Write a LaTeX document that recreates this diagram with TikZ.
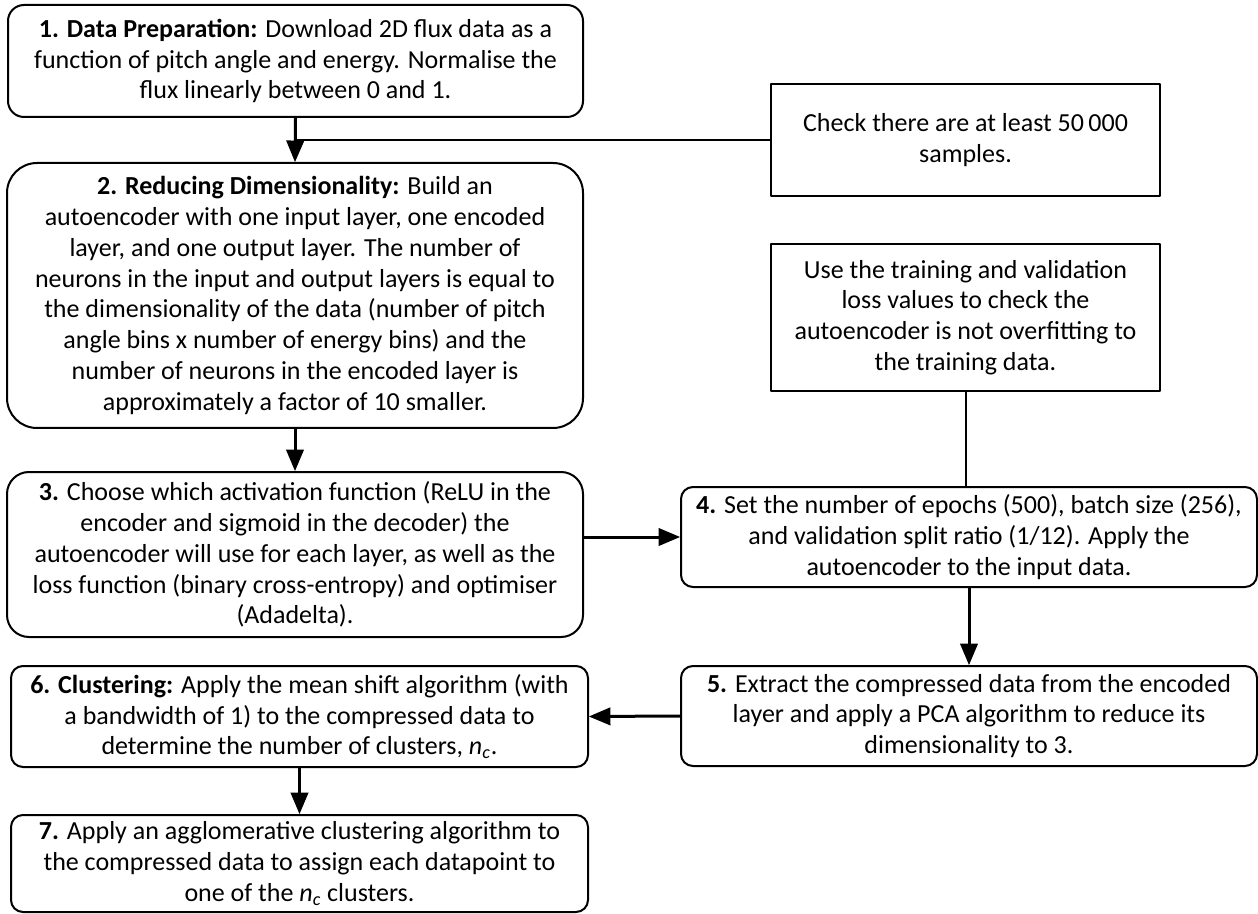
\documentclass[tikz,border=0pt]{standalone}
\usepackage{fontspec}
\setmainfont{Carlito}
\usetikzlibrary{arrows}

\tikzset{
  stepbox/.style={draw, line width=1pt, align=center, inner sep=0pt,
    font=\fontsize{13}{15.4}\selectfont},
  notebox/.style={stepbox, sharp corners},
  flow/.style={line width=1.5pt, ->, >=triangle 45},
  link/.style={line width=1pt}
}

\begin{document}
\begin{tikzpicture}[x=0.5pt,y=-0.5pt,line cap=round,line join=round]
\useasboundingbox (0,0) rectangle (1258,914);
% left column
\node [stepbox, rounded corners=8pt, minimum width=287.5pt, minimum height=56pt] (prep) at (295.5,61)
  {\textbf{1. Data Preparation:} Download 2D flux data as a\\
   function of pitch angle and energy. Normalise the\\
   flux linearly between 0 and 1.};
\node [stepbox, rounded corners=15pt, minimum width=288pt, minimum height=132.5pt] (reduce) at (295,295.5)
  {\textbf{2. Reducing Dimensionality:} Build an\\
   autoencoder with one input layer, one encoded\\
   layer, and one output layer. The number of\\
   neurons in the input and output layers is equal to\\
   the dimensionality of the data (number of pitch\\
   angle bins x number of energy bins) and the\\
   number of neurons in the encoded layer is\\
   approximately a factor of 10 smaller.};
\node [stepbox, rounded corners=11pt, minimum width=288pt, minimum height=82.5pt] (activ) at (295,554.5)
  {\textbf{3.} Choose which activation function (ReLU in the\\
   encoder and sigmoid in the decoder) the\\
   autoencoder will use for each layer, as well as the\\
   loss function (binary cross-entropy) and optimiser\\
   (Adadelta).};
\node [stepbox, rounded corners=6pt, minimum width=288.5pt, minimum height=50.5pt] (cluster) at (299.5,716.5)
  {\textbf{6. Clustering:} Apply the mean shift algorithm (with\\
   a bandwidth of 1) to the compressed data to\\
   determine the number of clusters, \textit{n}\textsubscript{\textit{c}}.};
\node [stepbox, rounded corners=6pt, minimum width=288.5pt, minimum height=48.5pt] (agglo) at (299.5,863.5)
  {\textbf{7.} Apply an agglomerative clustering algorithm to\\
   the compressed data to assign each datapoint to\\
   one of the \textit{n}\textsubscript{\textit{c}} clusters.};
% right column
\node [notebox, minimum width=194.5pt, minimum height=56pt] (check) at (965.5,140)
  {Check there are at least 50\,000\\ samples.};
\node [notebox, minimum width=194.5pt, minimum height=73.5pt] (loss) at (965.5,317.5)
  {Use the training and validation\\
   loss values to check the\\
   autoencoder is not overfitting to\\
   the training data.};
\node [stepbox, rounded corners=6pt, minimum width=288pt, minimum height=50pt] (train) at (969,537)
  {\textbf{4.} Set the number of epochs (500), batch size (256),\\
   and validation split ratio (1/12). Apply the\\
   autoencoder to the input data.};
\node [stepbox, rounded corners=6pt, minimum width=288pt, minimum height=50pt] (pca) at (969,716)
  {\textbf{5.} Extract the compressed data from the encoded\\
   layer and apply a PCA algorithm to reduce its\\
   dimensionality to 3.};
% connectors
\coordinate (split) at (prep.south |- check.west);
\draw [flow] (prep.south) -- (reduce.north);
\draw [link] (split) -- (check.west);
\draw [flow] (reduce.south) -- (activ.north);
\draw [flow] (activ.east |- train.west) -- (train.west);
\draw [link] (loss.south) -- (loss.south |- train.north);
\draw [flow] (train.south) -- (pca.north);
\draw [flow] (pca.west) -- (cluster.east);
\draw [flow] (cluster.south) -- (agglo.north);
\end{tikzpicture}
\end{document}
